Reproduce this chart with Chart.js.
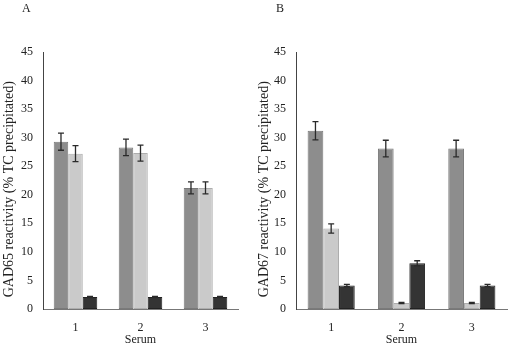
<!DOCTYPE html>
<html>
<head>
<meta charset="utf-8">
<script src="https://cdn.jsdelivr.net/npm/chart.js@4"></script>
<style>
  html, body { margin: 0; padding: 0; background: #ffffff; }
  #wrap { position: relative; width: 510px; height: 347px; overflow: hidden; }
  .panel { position: absolute; top: 0; width: 255px; height: 347px; }
  .lbl { position: absolute; top: 1px; font-family: "Liberation Serif", serif; font-size: 12px; color: #222; }
</style>
</head>
<body>
<div id="wrap">
  <div class="panel" style="left:0"><canvas id="cA" width="255" height="347"></canvas></div>
  <div class="panel" style="left:255px"><canvas id="cB" width="255" height="347"></canvas></div>
  <div class="lbl" style="left:22px">A</div>
  <div class="lbl" style="left:276px">B</div>
</div>
<script>
// ---- data ----
const categories = ['1', '2', '3'];
const yTicksMax = 45;
const yTickStep = 5;
const xTitle = 'Serum';

const titleA = 'GAD65 reactivity (% TC precipitated)';
const aDark = [29.3, 28.3, 21.2];
const aDarkErr = [1.5, 1.45, 1.05];
const aLight = [27.2, 27.3, 21.2];
const aLightErr = [1.4, 1.4, 1.05];
const aBlack = [2.1, 2.1, 2.1];
const aBlackErr = [0.12, 0.12, 0.12];

const titleB = 'GAD67 reactivity (% TC precipitated)';
const bDark = [31.2, 28.1, 28.1];
const bDarkErr = [1.6, 1.45, 1.45];
const bLight = [14.1, 1.05, 1.05];
const bLightErr = [0.8, 0.1, 0.1];
const bBlack = [4.1, 8.0, 4.1];
const bBlackErr = [0.2, 0.45, 0.2];

// ---- styles ----
const FONT = 'Liberation Serif';
const styles = [
  { bg: '#8d8d8d', border: '#7a7a7a' },
  { bg: '#cacaca', border: '#adadad' },
  { bg: '#343434', border: '#222222' }
];
// trailing non-breaking spaces shift the rotated title down to match the reference
const titlePad = '\u00A0\u00A0\u00A0\u00A0\u00A0';

const errorBarPlugin = {
  id: 'errorBars',
  afterDatasetsDraw(chart) {
    const ctx = chart.ctx;
    const yScale = chart.scales.y;
    ctx.save();
    ctx.strokeStyle = '#2a2a2a';
    ctx.lineWidth = 1.3;
    chart.data.datasets.forEach((ds, di) => {
      const meta = chart.getDatasetMeta(di);
      meta.data.forEach((bar, i) => {
        const v = ds.data[i];
        const e = ds.errors[i];
        const x = bar.x;
        const yTop = yScale.getPixelForValue(v + e);
        const yBot = yScale.getPixelForValue(v - e);
        const cap = 3;
        ctx.beginPath();
        ctx.moveTo(x, yTop); ctx.lineTo(x, yBot);
        ctx.moveTo(x - cap, yTop); ctx.lineTo(x + cap, yTop);
        ctx.moveTo(x - cap, yBot); ctx.lineTo(x + cap, yBot);
        ctx.stroke();
      });
    });
    ctx.restore();
  }
};

function makeChart(id, series, errs, yTitle, yWidth, rightPad) {
  const datasets = series.map((s, k) => ({
    data: s,
    errors: errs[k],
    backgroundColor: styles[k].bg,
    borderColor: styles[k].border,
    borderWidth: 1,
    borderSkipped: false,
    categoryPercentage: 0.67,
    barPercentage: 1.0
  }));
  return new Chart(document.getElementById(id), {
    type: 'bar',
    data: { labels: categories, datasets },
    plugins: [errorBarPlugin],
    options: {
      responsive: false,
      animation: false,
      devicePixelRatio: 1,
      layout: { padding: { top: 52, right: rightPad, bottom: 0, left: 0 } },
      plugins: { legend: { display: false }, tooltip: { enabled: false }, title: { display: false } },
      scales: {
        x: {
          grid: { display: false, drawTicks: false },
          border: { display: true, color: '#777777', width: 1 },
          ticks: { color: '#222', padding: 12, font: { family: FONT, size: 12 } },
          title: { display: true, text: xTitle, color: '#222', padding: { top: 0, bottom: 0 }, font: { family: FONT, size: 12 } },
          afterFit(scale) { scale.height = 38; }
        },
        y: {
          min: 0,
          max: yTicksMax,
          grid: { display: false, drawTicks: false },
          border: { display: true, color: '#444444', width: 1 },
          ticks: { stepSize: yTickStep, color: '#222', padding: 10, font: { family: FONT, size: 12 } },
          title: { display: true, text: yTitle + titlePad, color: '#222', padding: { top: 1, bottom: 0 }, font: { family: FONT, size: 14 } },
          afterFit(scale) { scale.width = yWidth; }
        }
      }
    }
  });
}

makeChart('cA', [aDark, aLight, aBlack], [aDarkErr, aLightErr, aBlackErr], titleA, 43, 17);
makeChart('cB', [bDark, bLight, bBlack], [bDarkErr, bLightErr, bBlackErr], titleB, 41, 3);
</script>
</body>
</html>
